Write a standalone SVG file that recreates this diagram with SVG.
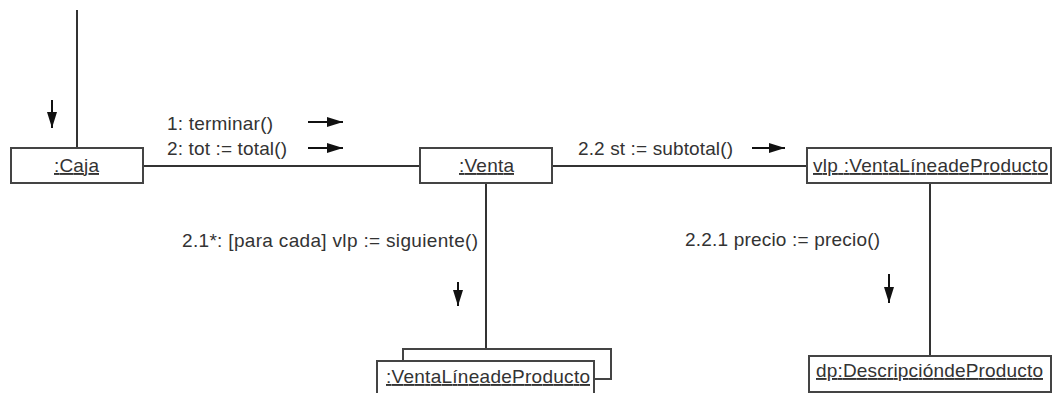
<svg xmlns="http://www.w3.org/2000/svg" width="1052" height="393" viewBox="0 0 1052 393">
  <style>
    .box { fill: #ffffff; stroke: #444444; stroke-width: 2; }
    .link { stroke: #333333; stroke-width: 2; fill: none; }
    .msg { stroke: #111111; stroke-width: 2; fill: none; }
    .lbl { font-family: "Liberation Sans", Arial, sans-serif; font-size: 19px; fill: #333333; }
    .obj { font-family: "Liberation Sans", Arial, sans-serif; font-size: 19px; fill: #333333; text-decoration: underline; }
  </style>
  <defs>
    <marker id="headBig" viewBox="0 0 10 10" refX="10" refY="5" markerWidth="16" markerHeight="10" markerUnits="userSpaceOnUse" orient="auto" preserveAspectRatio="none">
      <path d="M0,0 L10,5 L0,10 Z" fill="#111111"/>
    </marker>
  </defs>
  <rect width="1052" height="393" fill="#ffffff"/>

  <!-- links between objects -->
  <g id="connectors">
    <line class="link" x1="77" y1="10" x2="77" y2="148"/>
    <line class="link" x1="143" y1="166" x2="420" y2="166"/>
    <line class="link" x1="552" y1="166" x2="807" y2="166"/>
    <line class="link" x1="486" y1="183" x2="486" y2="349"/>
    <line class="link" x1="930" y1="183" x2="930" y2="356"/>
  </g>

  <!-- messages -->
  <g id="messages">
    <line class="msg" x1="52" y1="100" x2="52" y2="128" marker-end="url(#headBig)"/>
    <text class="lbl" x="167" y="130" textLength="106" lengthAdjust="spacing">1: terminar()</text>
    <line class="msg" x1="308" y1="122" x2="343" y2="122" marker-end="url(#headBig)"/>
    <text class="lbl" x="167" y="155" textLength="120" lengthAdjust="spacing">2: tot := total()</text>
    <line class="msg" x1="308" y1="148" x2="343" y2="148" marker-end="url(#headBig)"/>
    <text class="lbl" x="578" y="155" textLength="155" lengthAdjust="spacing">2.2 st := subtotal()</text>
    <line class="msg" x1="752" y1="148" x2="785" y2="148" marker-end="url(#headBig)"/>
    <text class="lbl" x="182" y="247" textLength="296" lengthAdjust="spacing">2.1*: [para cada] vlp := siguiente()</text>
    <line class="msg" x1="458" y1="282" x2="458" y2="306" marker-end="url(#headBig)"/>
    <text class="lbl" x="685" y="246" textLength="195" lengthAdjust="spacing">2.2.1 precio := precio()</text>
    <line class="msg" x1="889" y1="274" x2="889" y2="303" marker-end="url(#headBig)"/>
  </g>

  <g id="caja">
    <rect class="box" x="11" y="148" width="132" height="35"/>
    <text class="obj" x="54" y="172" textLength="45" lengthAdjust="spacing">:Caja</text>
  </g>

  <g id="venta">
    <rect class="box" x="420" y="148" width="132" height="35"/>
    <text class="obj" x="459" y="172" textLength="55" lengthAdjust="spacing">:Venta</text>
  </g>

  <g id="vlp">
    <rect class="box" x="807" y="148" width="244" height="35"/>
    <text class="obj" x="813" y="172" textLength="235" lengthAdjust="spacing">vlp :VentaLíneadeProducto</text>
  </g>

  <g id="lineas-multiobjeto">
    <path class="box" d="M403,361 L403,349 L611,349 L611,379 L594,379"/>
    <rect class="box" x="377" y="361" width="217" height="40"/>
    <text class="obj" x="386" y="383" textLength="204" lengthAdjust="spacing">:VentaLíneadeProducto</text>
  </g>

  <g id="dp">
    <rect class="box" x="809" y="356" width="242" height="36"/>
    <text class="obj" x="816" y="377" textLength="227" lengthAdjust="spacing">dp:DescripcióndeProducto</text>
  </g>
</svg>
